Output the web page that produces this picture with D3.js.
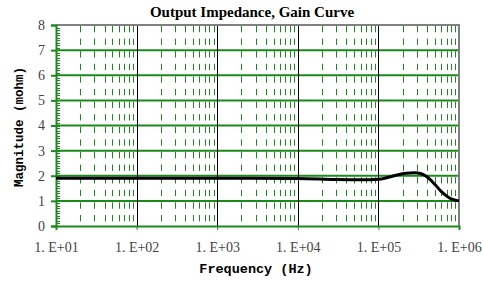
<!DOCTYPE html>
<html><head><meta charset="utf-8">
<script src="https://cdn.jsdelivr.net/npm/d3@7"></script>
<style>body{margin:0;background:#fff}svg{display:block}</style>
</head><body>
<svg id="c" width="483" height="281"></svg>
<script>
const title = "Output Impedance, Gain Curve";
const xTitle = "Frequency (Hz)";
const yTitle = "Magnitude (mohm)";
const xTickValues = [1e1, 1e2, 1e3, 1e4, 1e5, 1e6];
const xTickLabels = ["1. E+01", "1. E+02", "1. E+03", "1. E+04", "1. E+05", "1. E+06"];
const yTickValues = [0, 1, 2, 3, 4, 5, 6, 7, 8];
const freq = [10, 100, 1000, 1e4, 3e4, 6e4, 1e5, 1.3e5, 1.7e5, 2.2e5, 2.8e5, 3.4e5, 4e5, 5e5, 6e5, 7e5, 8e5, 1e6];
const magnitude = [1.9, 1.9, 1.9, 1.89, 1.85, 1.84, 1.86, 1.93, 2.03, 2.1, 2.12, 2.08, 1.96, 1.66, 1.38, 1.2, 1.08, 1.0];

const svg = d3.select("#c");
const L = 56, R = 459, T = 25, B = 226;
const x = d3.scaleLog().domain([10, 1e6]).range([L, R]);
const y = d3.scaleLinear().domain([0, 8]).range([B, T]);
const green = "#1a8a1a";

// minor dashed vertical gridlines
const minors = [];
for (let d = 1; d < 6; d++) for (let k = 2; k <= 9; k++) minors.push(k * Math.pow(10, d));
svg.append("g").selectAll("line").data(minors).join("line")
  .attr("x1", d => Math.round(x(d)) + 0.5).attr("x2", d => Math.round(x(d)) + 0.5)
  .attr("y1", T + 1).attr("y2", B)
  .attr("stroke", green).attr("stroke-width", 1).attr("stroke-dasharray", "6.3,6.3");

// horizontal major gridlines
svg.append("g").selectAll("line").data(yTickValues.slice(1, 8)).join("line")
  .attr("x1", L).attr("x2", R).attr("y1", d => y(d)).attr("y2", d => y(d))
  .attr("stroke", green).attr("stroke-width", 2);

// vertical decade gridlines
svg.append("g").selectAll("line").data(xTickValues.slice(1, 5)).join("line")
  .attr("x1", d => Math.round(x(d)) + 0.5).attr("x2", d => Math.round(x(d)) + 0.5)
  .attr("y1", T).attr("y2", B)
  .attr("stroke", "#000").attr("stroke-width", 1);

// top and right borders
svg.append("line").attr("x1", L).attr("x2", R + 1).attr("y1", T).attr("y2", T).attr("stroke", "#808080").attr("stroke-width", 2);
svg.append("line").attr("x1", R).attr("x2", R).attr("y1", T).attr("y2", B).attr("stroke", "#808080").attr("stroke-width", 2);

// y axis minor ticks (inside)
const yMinor = d3.range(0, 80).map(i => i / 10);
svg.append("g").selectAll("line").data(yMinor).join("line")
  .attr("x1", L).attr("x2", L + 4).attr("y1", d => Math.round(y(d)) + 0.5).attr("y2", d => Math.round(y(d)) + 0.5)
  .attr("stroke", green).attr("stroke-width", 1);

// axes
const yAxis = d3.axisLeft(y).tickValues(yTickValues).tickSize(5).tickPadding(6).tickFormat(d3.format("d"));
const gy = svg.append("g").attr("transform", `translate(${L},0)`).call(yAxis);
gy.select(".domain").attr("stroke", green).attr("stroke-width", 2);
gy.selectAll(".tick line").attr("stroke", green).attr("stroke-width", 2);
gy.selectAll(".tick text").attr("font-family", "Liberation Serif").attr("font-size", 14).attr("fill", "#444");

const xAxis = d3.axisBottom(x).tickValues(xTickValues).tickSize(4).tickPadding(12)
  .tickFormat((d, i) => xTickLabels[i]);
const gx = svg.append("g").attr("transform", `translate(0,${B})`).call(xAxis);
gx.select(".domain").attr("stroke", green).attr("stroke-width", 2);
gx.selectAll(".tick line").attr("stroke", green).attr("stroke-width", 1);
gx.selectAll(".tick text").attr("font-family", "Liberation Serif").attr("font-size", 14).attr("fill", "#444");

// curve
const line = d3.line().x((d, i) => x(freq[i])).y(d => y(d)).curve(d3.curveMonotoneX);
svg.append("path").attr("d", line(magnitude)).attr("fill", "none").attr("stroke", "#000").attr("stroke-width", 3);

// titles
svg.append("text").attr("x", 252).attr("y", 17).attr("text-anchor", "middle")
  .attr("font-family", "Liberation Serif").attr("font-weight", "bold").attr("font-size", 15).text(title);
svg.append("text").attr("x", 256).attr("y", 273).attr("text-anchor", "middle")
  .attr("font-family", "Liberation Mono").attr("font-weight", "bold").attr("font-size", 13.5).text(xTitle);
svg.append("text").attr("transform", "translate(23,127) rotate(-90)").attr("text-anchor", "middle")
  .attr("font-family", "Liberation Mono").attr("font-weight", "bold").attr("font-size", 12.5).text(yTitle);
</script>
</body></html>
